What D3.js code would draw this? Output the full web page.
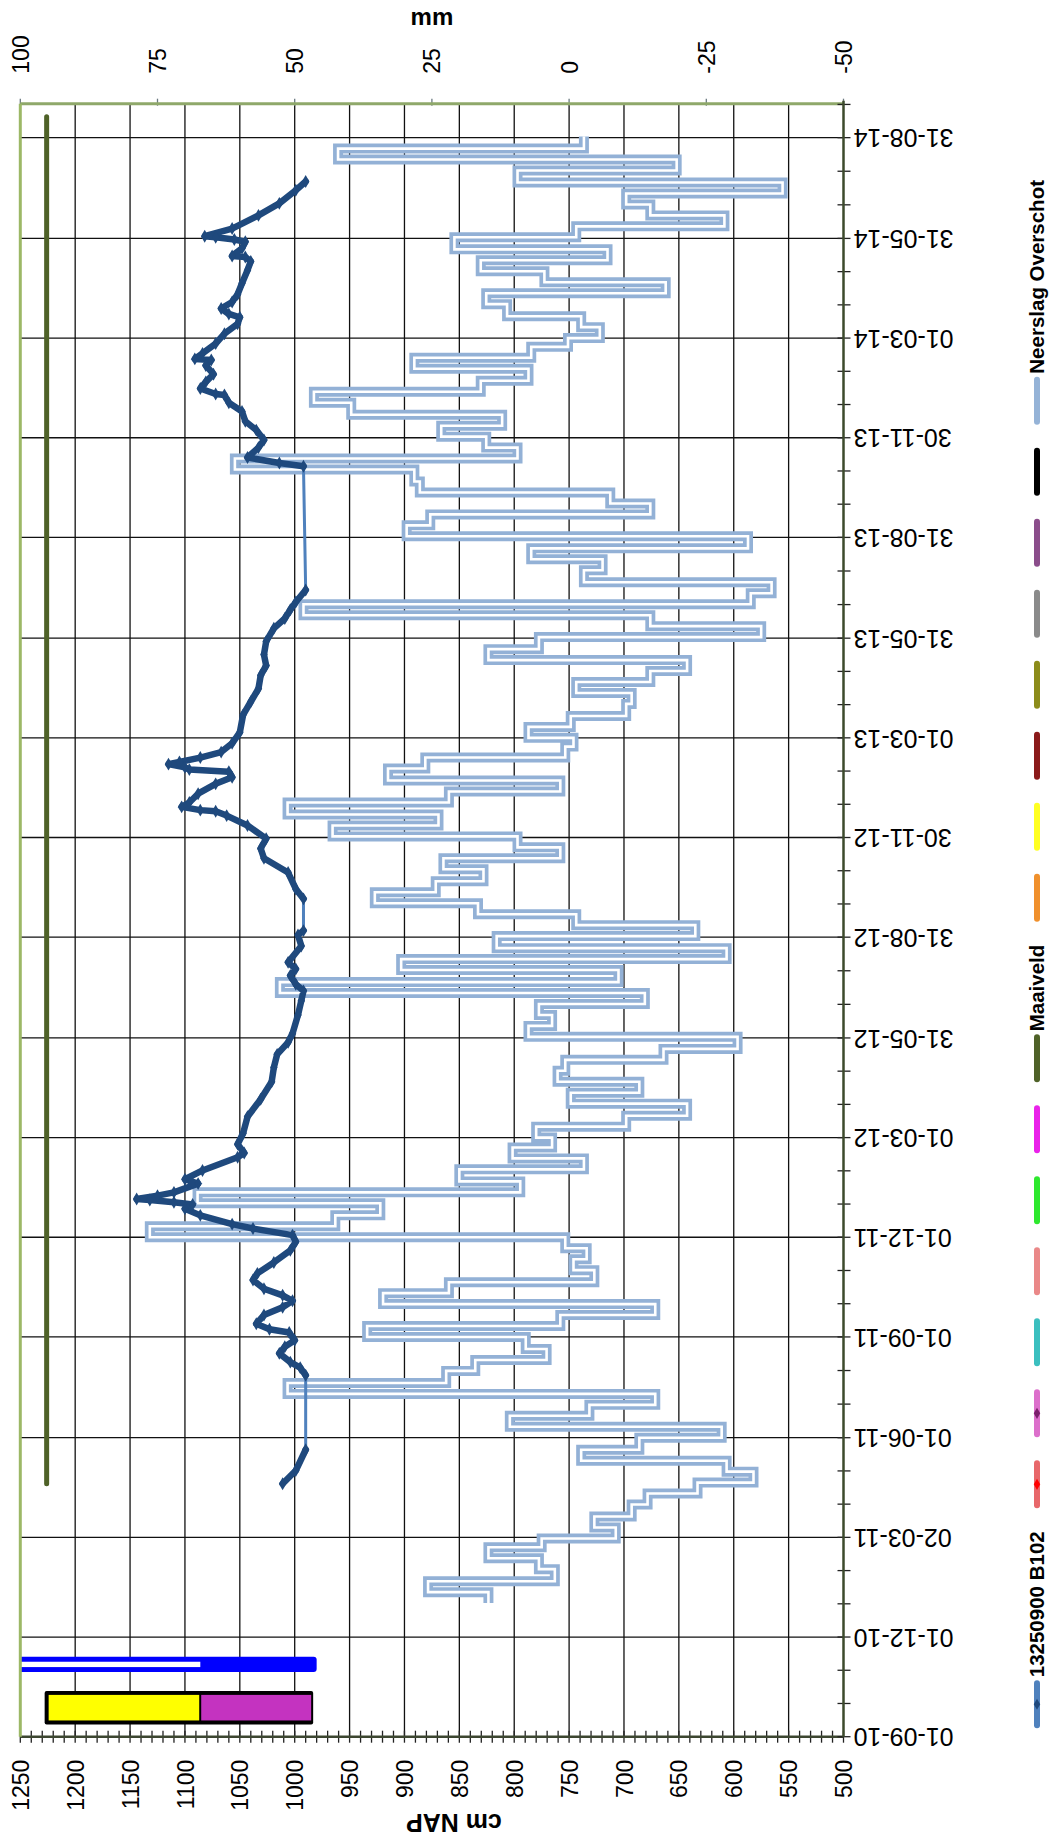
<!DOCTYPE html>
<html>
<head>
<meta charset="utf-8">
<script src="https://cdn.jsdelivr.net/npm/d3@7"></script>
<style>
  body { margin: 0; background: #fff; }
  svg { display: block; }
  text { font-family: "Liberation Sans", Arial, sans-serif; fill: #000; }
</style>
</head>
<body>
<svg id="chart" width="1054" height="1843"></svg>
<script>
// ---- data -------------------------------------------------------------
const dateDomain = ["2010-09-01", "2014-10-01"];
const levelDomain = [1250, 500];     // cm NAP
const surplusDomain = [100, -50];    // mm

const tickDates = ["2010-09-01","2010-12-01","2011-03-02","2011-06-01","2011-09-01",
  "2011-12-01","2012-03-01","2012-05-31","2012-08-31","2012-11-30","2013-03-01",
  "2013-05-31","2013-08-31","2013-11-30","2014-03-01","2014-05-31","2014-08-31"];
const levelTicks = d3.range(1250, 499, -50);
const surplusTicks = d3.range(100, -51, -25);

// groundwater level, well 13250900 B102 (cm NAP)
const levelDates = [
  "2011-04-20","2011-05-02","2011-05-21","2011-07-28","2011-08-04","2011-08-09","2011-08-17",
  "2011-08-23","2011-08-29","2011-09-05","2011-09-08","2011-09-13","2011-09-21","2011-09-28",
  "2011-10-04","2011-10-09","2011-10-15","2011-10-23","2011-10-29","2011-11-08","2011-11-19",
  "2011-11-27","2011-12-03","2011-12-09","2011-12-13","2011-12-21","2011-12-27","2011-12-31",
  "2012-01-02","2012-01-04","2012-01-05","2012-01-08","2012-01-11","2012-01-19","2012-01-23",
  "2012-01-31","2012-02-12","2012-02-16","2012-02-24","2012-03-05","2012-03-20","2012-04-05",
  "2012-04-21","2012-05-04","2012-05-16","2012-05-27","2012-06-04","2012-06-21","2012-07-04",
  "2012-07-13","2012-07-19","2012-07-27","2012-08-02","2012-08-08","2012-08-23","2012-09-02",
  "2012-09-06","2012-10-05","2012-10-14","2012-10-29","2012-11-11","2012-11-20","2012-11-29",
  "2012-12-11","2012-12-20","2012-12-24","2012-12-25","2012-12-28","2013-01-01","2013-01-09",
  "2013-01-18","2013-01-24","2013-01-29","2013-01-31","2013-02-02","2013-02-05","2013-02-07",
  "2013-02-11","2013-02-16","2013-02-24","2013-03-06","2013-03-22","2013-04-03","2013-04-15",
  "2013-04-27","2013-05-06","2013-05-16","2013-05-28","2013-06-09","2013-06-18","2013-06-26",
  "2013-07-03","2013-07-14","2013-11-04","2013-11-07","2013-11-12","2013-11-21","2013-11-28",
  "2013-12-07","2013-12-15","2013-12-24","2014-01-01","2014-01-08","2014-01-09","2014-01-14",
  "2014-01-20","2014-01-27","2014-02-04","2014-02-09","2014-02-10","2014-02-15","2014-02-24",
  "2014-03-05","2014-03-14","2014-03-20","2014-03-23","2014-03-28","2014-04-03","2014-04-10",
  "2014-04-20","2014-05-02","2014-05-10","2014-05-14","2014-05-15","2014-05-22","2014-05-28",
  "2014-05-30","2014-06-01","2014-06-02","2014-06-09","2014-06-21","2014-07-02","2014-07-14",
  "2014-07-22"];
const levelValues = [
  1011, 999, 990, 990, 995,1004,1014,
  1009,1000,1005,1023,1035,1028,1011,
  1002,1011,1028,1038,1034,1019,1004,
   999,1002,1038,1057,1086,1100,1093,
  1110,1132,1144,1125,1110,1088,1100,
  1084,1052,1046,1052,1047,1043,1031,
  1021,1019,1016,1006,1002, 997, 994,
   992, 999,1004, 999,1006, 994, 997,
   992, 992, 999,1006,1028,1031,1026,
  1043,1062,1072,1086,1103,1096,1088,
  1072,1057,1060,1096,1100,1115,1105,
  1086,1067,1057,1050,1047,1040,1033,
  1031,1026,1028,1026,1019,1009,1004,
   999, 990, 992,1014,1043,1033,1028,
  1035,1045,1048,1060,1064,1072,1086,
  1081,1074,1081,1076,1091,1084,1072,
  1064,1052,1050,1060,1067,1057,1052,
  1048,1043,1040,1045,1057,1048,1045,
  1055,1072,1082,1057,1033,1014, 999,
   990];

// ground surface (maaiveld), cm NAP
const surfaceDates = ["2011-04-20", "2014-09-19"];
const surfaceValues = [1226, 1226];

// precipitation surplus per decade (mm), first decade starting 2011-01-01
const surplusStart = "2011-01-01";
const surplusValues = [
  // 2011
  14.7, 25.7, 2.6,   5.5, 14.7, 5.0,   -8.5, -4.6, -11.4,  -14.3, -23.4, -33.6,
  -28.7, -2.2, -12.8, -27.8, 10.8, -3.7, -15.7, 51.3, 22.4,  17.1, 4.1, 7.9,
  36.8, 1.6, -15.7,  33.9, 21.9, -4.6,  -0.8, -3.2, 0.7,     76.4, 42.6, 34.4,
  // 2012
  67.7, 8.9, 20.0,   -2.7, 10.3, 3.1,   6.0, -10.4, -21.5,   -0.3, -12.8, 2.1,
  0.7, -17.2, -30.7, 7.4, 3.1, 5.5,     -13.8, 52.7, -9.0,   30.6, -28.7, 13.2,
  -23.0, -1.3, 16.6, 35.4, 24.3, 15.6,  22.9, 1.6, 9.4,      43.1, 23.8, 51.3,
  // 2013
  21.9, 1.6, 33.0,   26.2, 0.7, -0.8,   7.4, -0.3, -10.4,    -11.4, -1.3, -14.8,
  -21.5, 14.7, 5.5,  -35.0, -14.8, 48.4, -33.1, -36.9, -2.7, -6.1, 6.9, -32.6,
  29.6, 25.3, -14.8, -7.5, 27.2, 28.2,  60.9, 9.4, 15.1,     23.3, 12.2, 39.7,
  // 2014
  46.5, 16.1, 7.4,   28.2, 6.9, 0.2,    -5.6, -2.2, 11.3,    15.1, -17.6, 4.5,
  16.1, -7.0, 20.9,  -1.3, -28.3, -14.8, -10.4, -38.9, 9.4,  -19.6, 42.1, -2.7];

// borehole log: soil layers (cm NAP) and well construction
const layerTop = [1226, 1087];
const layerBottom = [1087, 985];
const layerDates = ["2010-09-14", "2010-10-11"];
const wellTop = 1262, filterTop = 1086, filterBottom = 980;
const wellDates = ["2010-10-30", "2010-11-13"];

// legend
const legendNames = ["13250900 B102", "", "", "", "", "", "", "Maaiveld",
  "", "", "", "", "", "", "", "Neerslag Overschot"];
const legendColors = ["#4f81bd", "#e8676a", "#dc6fcb", "#3bbfbf", "#ea8888", "#2ee82e",
  "#ea22ea", "#4f6228", "#f0902c", "#ffff22", "#8b1a1a", "#8c8c1a", "#8a8a8a",
  "#8b4d8b", "#000000", "#95b3d7"];
const legendMarkers = ["#1f497d", "#ff0000", "#7c1f6c", null, null, null, null, null,
  null, null, null, null, null, null, null, null];

// ---- layout & scales --------------------------------------------------
const svg = d3.select("#chart");
const plot = { left: 20.3, right: 843.5, top: 103.7, bottom: 1736.7 };
const parse = d3.utcParse("%Y-%m-%d");
const fmt = d3.utcFormat("%d-%m-%y");
const numFmt = d => String(d);

const x = d3.scaleLinear().domain(levelDomain).range([plot.left, plot.right]);
const xMm = d3.scaleLinear().domain(surplusDomain).range([plot.left, plot.right]);
const y = d3.scaleUtc().domain(dateDomain.map(parse)).range([plot.bottom, plot.top]);

svg.append("defs").append("clipPath").attr("id", "plotClip")
  .append("rect").attr("x", plot.left).attr("y", plot.top)
  .attr("width", plot.right - plot.left).attr("height", plot.bottom - plot.top);

// ---- grid ---------------------------------------------------------------
const grid = svg.append("g").attr("stroke", "#111").attr("stroke-width", 1.3);
grid.selectAll("line.v").data(levelTicks.slice(1, -1)).join("line")
  .attr("x1", d => x(d)).attr("x2", d => x(d))
  .attr("y1", plot.top).attr("y2", plot.bottom);
grid.selectAll("line.h").data(tickDates.slice(1)).join("line")
  .attr("x1", plot.left).attr("x2", plot.right)
  .attr("y1", d => y(parse(d))).attr("y2", d => y(parse(d)));

// ---- borehole log ------------------------------------------------------
const logG = svg.append("g").attr("clip-path", "url(#plotClip)");
const ly0 = y(parse(layerDates[1])), ly1 = y(parse(layerDates[0]));
logG.append("rect")
  .attr("x", x(layerTop[0]) - 2).attr("y", ly0 - 2)
  .attr("width", x(layerBottom[1]) - x(layerTop[0]) + 4).attr("height", ly1 - ly0 + 4)
  .attr("fill", "#000").attr("rx", 2);
const layerColors = ["#ffff00", "#c433c0"];
logG.selectAll("rect.layer").data(layerTop).join("rect")
  .attr("x", (d, i) => x(layerTop[i]) + 2)
  .attr("y", ly0 + 2)
  .attr("width", (d, i) => x(layerBottom[i]) - x(layerTop[i]) - 2)
  .attr("height", ly1 - ly0 - 4)
  .attr("fill", (d, i) => layerColors[i]);

const wy0 = y(parse(wellDates[1])), wy1 = y(parse(wellDates[0]));
logG.append("rect")
  .attr("x", x(wellTop)).attr("y", wy0)
  .attr("width", x(filterBottom) - x(wellTop)).attr("height", wy1 - wy0)
  .attr("rx", 3).attr("fill", "#0000ff");
logG.append("rect")
  .attr("x", x(wellTop)).attr("y", wy0 + 5)
  .attr("width", x(filterTop) - x(wellTop)).attr("height", wy1 - wy0 - 10)
  .attr("fill", "#fff");

// ---- precipitation surplus (decade steps) ------------------------------
function decadeStarts(first, n) {
  const out = [];
  let d = parse(first);
  for (let i = 0; i <= n; i++) {
    out.push(d);
    const day = d.getUTCDate();
    d = day === 21
      ? new Date(Date.UTC(d.getUTCFullYear(), d.getUTCMonth() + 1, 1))
      : new Date(Date.UTC(d.getUTCFullYear(), d.getUTCMonth(), day + 10));
  }
  return out;
}
const decades = decadeStarts(surplusStart, surplusValues.length);
const surplusPts = decades.map((d, i) =>
  [d, surplusValues[Math.min(i, surplusValues.length - 1)]]);

// time runs along y, so each decade is a vertical run at its value
const stepPath = (() => {
  const p = d3.path();
  surplusPts.forEach((d, i) => {
    const px = xMm(d[1]), py = y(d[0]);
    if (i === 0) p.moveTo(px, py);
    else { p.lineTo(xMm(surplusPts[i - 1][1]), py); p.lineTo(px, py); }
  });
  return p.toString();
})();
const rainG = svg.append("g").attr("clip-path", "url(#plotClip)").attr("fill", "none");
rainG.append("path").attr("d", stepPath)
  .attr("stroke", "#93b1d6").attr("stroke-width", 10).attr("stroke-linejoin", "miter");
rainG.append("path").attr("d", stepPath)
  .attr("stroke", "#ffffff").attr("stroke-width", 2.6).attr("stroke-linejoin", "miter");

// ---- ground surface ------------------------------------------------------
svg.append("path")
  .datum(surfaceDates.map((d, i) => [parse(d), surfaceValues[i]]))
  .attr("fill", "none").attr("stroke", "#4f6228").attr("stroke-width", 5)
  .attr("stroke-linecap", "round")
  .attr("d", d3.line().x(d => x(d[1])).y(d => y(d[0])));

// ---- groundwater level -----------------------------------------------------
const level = levelDates.map((d, i) => [parse(d), levelValues[i]]);
const lvLine = d3.line().x(d => x(d[1])).y(d => y(d[0]));
const lvG = svg.append("g").attr("fill", "none");
lvG.append("path").attr("d", lvLine(level))
  .attr("stroke", "#4f81bd").attr("stroke-width", 3);
// consecutive readings close in time form dense runs
const runs = [];
let run = [level[0]];
for (let i = 1; i < level.length; i++) {
  if ((level[i][0] - level[i - 1][0]) / 864e5 > 25) { runs.push(run); run = []; }
  run.push(level[i]);
}
runs.push(run);
lvG.selectAll("path.run").data(runs).join("path")
  .attr("d", r => lvLine(r))
  .attr("stroke", "#1f497d").attr("stroke-width", 6.5)
  .attr("stroke-linejoin", "round").attr("stroke-linecap", "round");
lvG.selectAll("path.pt").data(level).join("path")
  .attr("transform", d => `translate(${x(d[1])},${y(d[0])})`)
  .attr("d", d3.symbol(d3.symbolDiamond, 48))
  .attr("fill", "#1f497d");

// ---- axes ---------------------------------------------------------------
// cm NAP (bottom)
const axB = svg.append("g").attr("transform", `translate(0,${plot.bottom})`)
  .call(d3.axisBottom(x).tickValues(levelTicks).tickFormat(numFmt)
    .tickSize(0).tickPadding(0));
axB.select(".domain").remove();
axB.selectAll(".tick text")
  .attr("transform", "rotate(-90)").attr("x", -23).attr("y", 0).attr("dy", "0.35em")
  .style("text-anchor", "end").style("font-size", "23px");
svg.append("g").selectAll("line").data(d3.range(1250, 499, -10)).join("line")
  .attr("x1", d => x(d)).attr("x2", d => x(d))
  .attr("y1", plot.bottom - 6).attr("y2", plot.bottom + 6)
  .attr("stroke", "#222").attr("stroke-width", 1.3);
svg.append("line").attr("x1", plot.left).attr("x2", plot.right)
  .attr("y1", plot.bottom).attr("y2", plot.bottom)
  .attr("stroke", "#3c4630").attr("stroke-width", 2.5);

// mm (top)
const axT = svg.append("g").attr("transform", `translate(0,${plot.top})`)
  .call(d3.axisTop(xMm).tickValues(surplusTicks).tickFormat(numFmt)
    .tickSize(0).tickPadding(0));
axT.select(".domain").remove();
axT.selectAll(".tick text")
  .attr("transform", "rotate(-90)").attr("x", 30).attr("y", 0).attr("dy", "0.35em")
  .style("text-anchor", "start").style("font-size", "23px");
svg.append("g").selectAll("line").data(surplusTicks).join("line")
  .attr("x1", d => xMm(d)).attr("x2", d => xMm(d))
  .attr("y1", plot.top - 5).attr("y2", plot.top + 2)
  .attr("stroke", "#6b7a80").attr("stroke-width", 1.3);
svg.append("line").attr("x1", plot.left).attr("x2", plot.right)
  .attr("y1", plot.top).attr("y2", plot.top)
  .attr("stroke", "#8fa86a").attr("stroke-width", 3);

// left border
svg.append("line").attr("x1", plot.left).attr("x2", plot.left)
  .attr("y1", plot.top).attr("y2", plot.bottom)
  .attr("stroke", "#9cb866").attr("stroke-width", 3);

// dates (right)
const axR = svg.append("g").attr("transform", `translate(${plot.right},0)`)
  .call(d3.axisRight(y).tickValues(tickDates.map(parse)).tickFormat(fmt)
    .tickSize(0).tickPadding(0));
axR.select(".domain").remove();
axR.selectAll(".tick text")
  .attr("transform", "rotate(180)").attr("x", -10).attr("y", 0).attr("dy", "0.35em")
  .style("text-anchor", "end").style("font-size", "25px");
const tickYs = tickDates.map(d => y(parse(d)));
const minorYs = [];
for (let i = 0; i < tickYs.length - 1; i++) {
  minorYs.push(tickYs[i] + (tickYs[i + 1] - tickYs[i]) / 3);
  minorYs.push(tickYs[i] + 2 * (tickYs[i + 1] - tickYs[i]) / 3);
}
minorYs.push(tickYs[tickYs.length - 1] + (tickYs[1] - tickYs[0]) / 3);
svg.append("g").selectAll("line").data(tickYs.concat(minorYs)).join("line")
  .attr("x1", plot.right - 6).attr("x2", plot.right + 7)
  .attr("y1", d => d).attr("y2", d => d)
  .attr("stroke", "#222").attr("stroke-width", 1.3);
svg.append("line").attr("x1", plot.right).attr("x2", plot.right)
  .attr("y1", plot.top - 3).attr("y2", plot.bottom)
  .attr("stroke", "#3c4a2c").attr("stroke-width", 2.5);

// axis titles
svg.append("text").attr("x", (plot.left + plot.right) / 2).attr("y", 25)
  .attr("text-anchor", "middle").style("font-size", "24px").style("font-weight", "bold")
  .text("mm");
svg.append("text")
  .attr("transform", `translate(${(plot.left + plot.right) / 2 + 22},1823) rotate(180)`)
  .attr("text-anchor", "middle").attr("dy", "0.35em")
  .style("font-size", "25px").style("font-weight", "bold")
  .text("cm NAP");

// ---- legend (reads bottom to top) ---------------------------------------
const legX = 1037, symLen = 48, symGap = 23, txtGap = 3;
const legG = svg.append("g");
let cursor = 180;
for (let i = legendNames.length - 1; i >= 0; i--) {
  if (legendNames[i]) {
    const t = legG.append("text")
      .attr("transform", `translate(${legX},0) rotate(-90)`)
      .attr("dy", "0.35em").style("font-size", "20.5px").style("font-weight", "bold")
      .style("text-anchor", "start").text(legendNames[i]);
    const len = t.node().getComputedTextLength();
    t.attr("x", -(cursor + len));
    cursor += len + txtGap;
  }
  legG.append("line").attr("x1", legX).attr("x2", legX)
    .attr("y1", cursor + 3).attr("y2", cursor + symLen - 3)
    .attr("stroke", legendColors[i]).attr("stroke-width", 6)
    .attr("stroke-linecap", "round");
  if (legendMarkers[i]) {
    legG.append("path")
      .attr("transform", `translate(${legX},${cursor + symLen / 2})`)
      .attr("d", d3.symbol(d3.symbolDiamond, 36)).attr("fill", legendMarkers[i]);
  }
  cursor += symLen + symGap;
}
</script>
</body>
</html>
